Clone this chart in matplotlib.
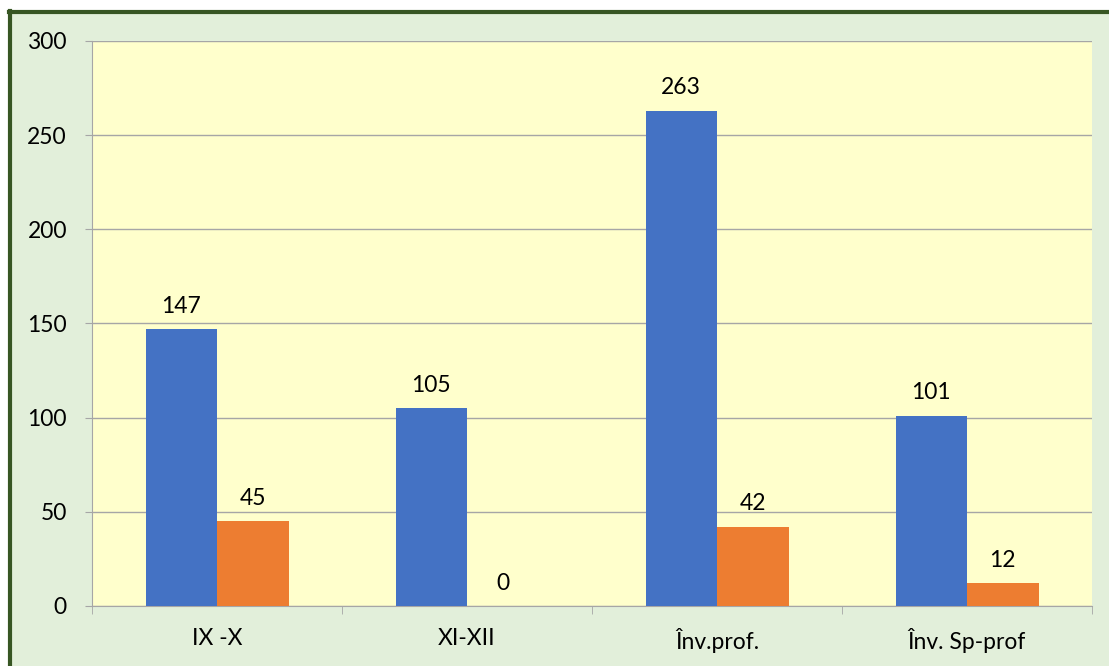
import matplotlib.pyplot as plt
import numpy as np
from matplotlib.lines import Line2D

categories = ['IX -X', 'XI-XII', 'Înv.prof.', 'Înv. Sp-prof']
series_a = [147, 105, 263, 101]
series_b = [45, 0, 42, 12]

plt.rcParams['font.family'] = ['Lato', 'DejaVu Sans']

W, H = 1109, 666
fig = plt.figure(figsize=(W / 100, H / 100), dpi=100)
fig.patch.set_facecolor('white')

# green panel with dark border on the left and top
panel = plt.Rectangle((10 / W, 0), 1, 1 - 12 / H, transform=fig.transFigure,
                      facecolor='#E2EFDA', edgecolor='none', zorder=-2)
fig.add_artist(panel)
fig.add_artist(Line2D([10 / W, 10 / W], [0, 1 - 11 / H], transform=fig.transFigure,
                      color='#375623', lw=3))
fig.add_artist(Line2D([9 / W, 1], [1 - 12 / H, 1 - 12 / H], transform=fig.transFigure,
                      color='#375623', lw=3))

ax = fig.add_axes([92 / W, 1 - 606 / H, 1000 / W, 565 / H])
ax.set_facecolor('#FFFFCC')

x = np.arange(len(categories))
w = 0.286
bars_a = ax.bar(x - w / 2, series_a, w, color='#4472C4', zorder=3)
bars_b = ax.bar(x + w / 2, series_b, w, color='#ED7D31', zorder=3)

for bars in (bars_a, bars_b):
    for b in bars:
        ax.annotate(str(int(b.get_height())), (b.get_x() + b.get_width() / 2, b.get_height()),
                    xytext=(0, 9), textcoords='offset points', ha='center', va='bottom',
                    fontsize=16.5, color='black')

ax.set_xlim(-0.5, len(categories) - 0.5)
ax.set_ylim(0, 300)
ax.set_yticks(range(0, 301, 50))
ax.yaxis.grid(True, color='#A6A6A6', lw=1, zorder=0)
ax.set_axisbelow(True)

ax.set_xticks(x)
ax.set_xticklabels(categories)
ax.set_xticks(np.arange(-0.5, len(categories)), minor=True)
ax.tick_params(axis='x', which='major', length=0, labelsize=16.5, pad=16)
ax.tick_params(axis='x', which='minor', length=6, color='#A6A6A6')
ax.tick_params(axis='y', length=5, color='#A6A6A6', labelsize=16.5, pad=13)

for s in ['top', 'right']:
    ax.spines[s].set_visible(False)
ax.spines['left'].set_color('#A6A6A6')
ax.spines['bottom'].set_color('#A6A6A6')

fig.savefig('out.png', dpi=100)
